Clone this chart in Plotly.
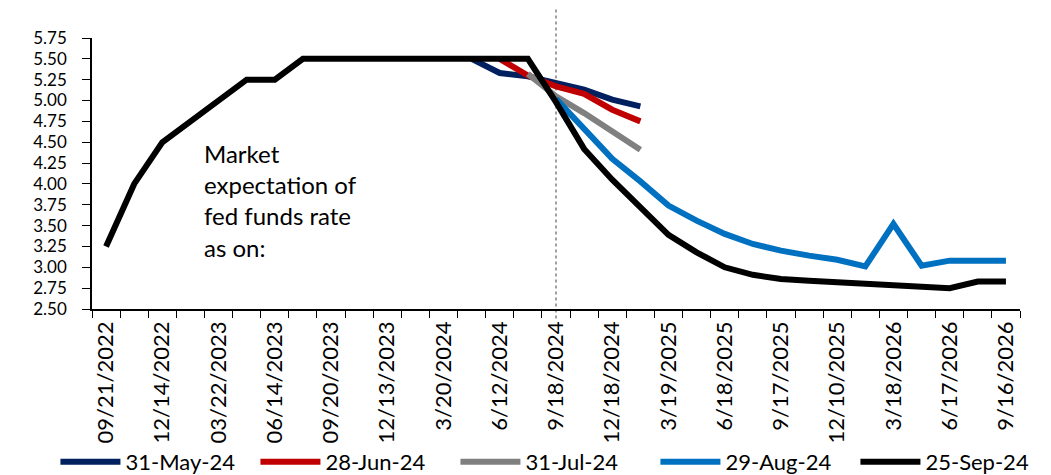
import plotly.graph_objects as go

meeting_dates = ["09/21/2022", "11/02/2022", "12/14/2022", "02/01/2023", "03/22/2023", "05/03/2023",
                 "06/14/2023", "07/26/2023", "09/20/2023", "11/01/2023", "12/13/2023", "1/31/2024",
                 "3/20/2024", "5/1/2024", "6/12/2024", "7/31/2024", "9/18/2024", "11/7/2024",
                 "12/18/2024", "1/29/2025", "3/19/2025", "5/7/2025", "6/18/2025", "7/30/2025",
                 "9/17/2025", "10/29/2025", "12/10/2025", "1/28/2026", "3/18/2026", "4/29/2026",
                 "6/17/2026", "7/29/2026", "9/16/2026"]

tick_labels = ["09/21/2022", "", "12/14/2022", "", "03/22/2023", "", "06/14/2023", "", "09/20/2023", "",
               "12/13/2023", "", "3/20/2024", "", "6/12/2024", "", "9/18/2024", "", "12/18/2024", "",
               "3/19/2025", "", "6/18/2025", "", "9/17/2025", "", "12/10/2025", "", "3/18/2026", "",
               "6/17/2026", "", "9/16/2026"]

N = None
may31 = [N] * 13 + [5.50, 5.33, 5.29, 5.21, 5.13, 5.01, 4.93] + [N] * 13
jun28 = [N] * 14 + [5.50, 5.30, 5.17, 5.08, 4.89, 4.75] + [N] * 13
jul31 = [N] * 15 + [5.32, 5.05, 4.85, 4.63, 4.41] + [N] * 13
aug29 = [N] * 16 + [5.02, 4.66, 4.30, 4.03, 3.74, 3.56, 3.40, 3.28, 3.20, 3.14, 3.09, 3.01,
                    3.52, 3.02, 3.08, 3.08, 3.08]
sep25 = [3.25, 4.00, 4.50, 4.75, 5.00, 5.25, 5.25, 5.50, 5.50, 5.50, 5.50, 5.50, 5.50, 5.50,
         5.50, 5.50, 4.98, 4.42, 4.05, 3.72, 3.39, 3.18, 3.00, 2.91, 2.86, 2.84, 2.82, 2.80,
         2.79, 2.76, 2.75, 2.83, 2.83]

series_names = ["31-May-24", "28-Jun-24", "31-Jul-24", "29-Aug-24", "25-Sep-24"]
series_values = [may31, jun28, jul31, aug29, sep25]
series_colors = ["#002060", "#C00000", "#808080", "#0070C0", "#000000"]

FONT = "Lato"

fig = go.Figure()
for name, vals, color in zip(series_names, series_values, series_colors):
    fig.add_trace(go.Scatter(x=meeting_dates, y=vals, name=name, mode="lines",
                             line=dict(color=color, width=6), connectgaps=False))

fig.add_shape(type="line", xref="x", yref="paper", x0=meeting_dates[16], x1=meeting_dates[16],
              y0=-0.035, y1=1.12, line=dict(color="#404040", width=1, dash="dot"), layer="below")

fig.add_annotation(xref="paper", yref="paper", x=0.1185, y=0.633, xanchor="left", yanchor="top",
                   align="left", showarrow=False,
                   text="Market<br>expectation of<br>fed funds rate<br>as on:",
                   font=dict(family=FONT, size=24, color="black"))

fig.update_layout(
    width=1051, height=520,
    margin=dict(l=84, r=39, t=30, b=219),
    paper_bgcolor="white", plot_bgcolor="white",
    font=dict(family=FONT, color="black"),
    showlegend=True,
    legend=dict(orientation="h", x=-0.0394, y=-0.5646, xanchor="left", yanchor="middle",
                font=dict(family=FONT, size=22, color="black"),
                itemwidth=60, entrywidth=125, entrywidthmode="pixels",
                bgcolor="rgba(0,0,0,0)"),
    xaxis=dict(type="category", categoryorder="array", categoryarray=meeting_dates,
               range=[-0.5, len(meeting_dates) - 0.5], automargin=False,
               tickmode="array", tickvals=meeting_dates, ticktext=tick_labels,
               tickson="boundaries", ticks="outside", ticklen=7, tickcolor="black",
               ticklabelstandoff=2,
               tickangle=-90, tickfont=dict(family=FONT, size=22, color="black"),
               showline=True, linecolor="black", linewidth=1.5, showgrid=False, zeroline=False),
    yaxis=dict(range=[2.5, 5.75], dtick=0.25, tick0=2.5, tickformat=".2f", automargin=False,
               ticks="outside", ticklen=8, tickcolor="black", ticklabelstandoff=12,
               tickfont=dict(family=FONT, size=17, color="black"),
               showline=True, linecolor="black", linewidth=1.5, showgrid=False, zeroline=False),
)

fig.write_html("out.html")
